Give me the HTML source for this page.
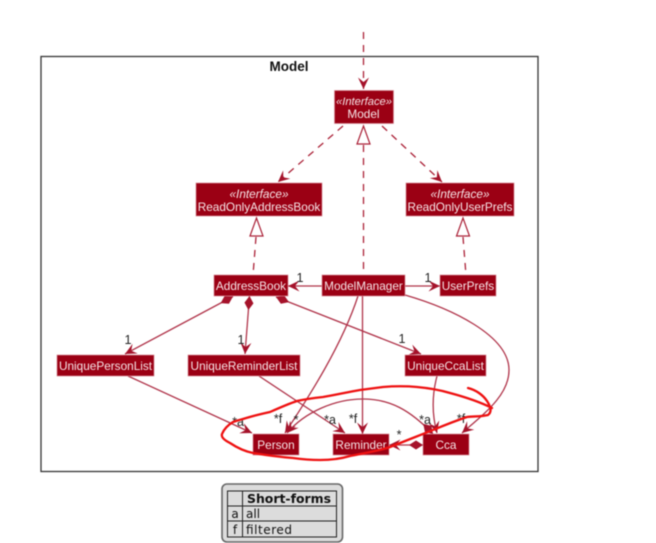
<!DOCTYPE html>
<html>
<head>
<meta charset="utf-8">
<style>
html,body{margin:0;padding:0;background:#fff;width:656px;height:543px;overflow:hidden}
svg{display:block;filter:blur(0.45px)}
text{font-family:"Liberation Sans",sans-serif}
.n{font-size:11.800px;fill:#f6e3e6;text-anchor:middle}
.i{font-size:11.800px;fill:#f6e3e6;text-anchor:middle;font-style:italic}
.l{font-size:12.500px;fill:#222;text-anchor:middle}
.t{font-family:"DejaVu Sans",sans-serif;font-size:12px;fill:#111}
.b{fill:#9b0014;stroke:#d88a96;stroke-width:.7}
.c{fill:none;stroke:#b0344a;stroke-width:1.300}
.d{fill:none;stroke:#ab2238;stroke-width:1.300;stroke-dasharray:7 6}
.h{fill:#fff;stroke:#ab2238;stroke-width:1.200}
</style>
</head>
<body>
<svg width="656" height="543" viewBox="0 0 656 543" xmlns="http://www.w3.org/2000/svg">
<defs>
<marker id="ar" markerUnits="userSpaceOnUse" markerWidth="16" markerHeight="14" viewBox="-13 -7 16 14" refX="0" refY="0" orient="auto">
<path d="M0 0L-11.500 -5.500L-7 0L-11.500 5.500Z" fill="#a5122a"/>
</marker>
<marker id="di" markerUnits="userSpaceOnUse" markerWidth="18" markerHeight="12" viewBox="-2 -6 18 12" refX="0" refY="0" orient="auto">
<path d="M0 0L7 -4.500L14 0L7 4.500Z" fill="#a5122a"/>
</marker>
</defs>
<rect x="41" y="56.500" width="497" height="415" fill="#fff" stroke="#333" stroke-width="1.300"/>
<text x="289" y="71" font-size="13.500" font-weight="bold" text-anchor="middle" fill="#111">Model</text>

<!-- dashed connectors -->
<path class="d" d="M363.500 32V89" marker-end="url(#ar)"/>
<path class="d" d="M343 126L278 182" marker-end="url(#ar)"/>
<path class="d" d="M382 126L442 182" marker-end="url(#ar)"/>
<path class="h" d="M363.500 126L357 144H370Z"/>
<path class="d" d="M363.500 145V275"/>
<path class="h" d="M256.500 218L250 236H263Z"/>
<path class="d" d="M256 237L253 275"/>
<path class="h" d="M463 218L456.500 236H469.500Z"/>
<path class="d" d="M463 237L466 275"/>

<!-- solid connectors -->
<path class="c" d="M322 286H288" marker-end="url(#ar)"/>
<path class="c" d="M405 286H440" marker-end="url(#ar)"/>
<path class="c" d="M233 296.500L125 354" marker-start="url(#di)" marker-end="url(#ar)"/>
<path class="c" d="M249.500 296L245 354" marker-start="url(#di)" marker-end="url(#ar)"/>
<path class="c" d="M276 297L421 354" marker-start="url(#di)" marker-end="url(#ar)"/>

<path class="c" d="M128 376L252 433" marker-end="url(#ar)"/>
<path class="c" d="M259 376L345 433" marker-end="url(#ar)"/>
<path class="c" d="M358 296C342 345 310 395 285 433" marker-end="url(#ar)"/>
<path class="c" d="M362.500 296V434" marker-end="url(#ar)"/>
<path class="c" d="M405 295C450 308 509 335 509 370C509 395 485 413 462 433" marker-end="url(#ar)"/>
<path class="c" d="M437 376C432 395 432 415 437 433" marker-end="url(#ar)"/>
<path class="c" d="M433 434C410 410 390 399 363 399C335 399 305 412 287 433" marker-start="url(#di)" marker-end="url(#ar)"/>
<path class="c" d="M423 445H389" marker-start="url(#di)" marker-end="url(#ar)"/>

<!-- boxes -->
<rect class="b" x="334.500" y="90.500" width="59" height="33"/>
<text class="i" x="364" y="105" style="font-size:11.200px">«Interface»</text>
<text class="n" x="363.500" y="118">Model</text>
<rect class="b" x="196" y="183" width="126" height="33"/>
<text class="i" x="259" y="198">«Interface»</text>
<text class="n" x="259" y="211">ReadOnlyAddressBook</text>
<rect class="b" x="406" y="183" width="108" height="33"/>
<text class="i" x="460" y="198">«Interface»</text>
<text class="n" x="460" y="211">ReadOnlyUserPrefs</text>
<rect class="b" x="214" y="275" width="74" height="21"/>
<text class="n" x="251" y="290">AddressBook</text>
<rect class="b" x="322" y="275" width="83" height="21"/>
<text class="n" x="363.500" y="290">ModelManager</text>
<rect class="b" x="440" y="275" width="56" height="21"/>
<text class="n" x="468" y="290">UserPrefs</text>
<rect class="b" x="57" y="355" width="97" height="21"/>
<text class="n" x="105.500" y="370">UniquePersonList</text>
<rect class="b" x="188" y="355" width="112" height="21"/>
<text class="n" x="244" y="370">UniqueReminderList</text>
<rect class="b" x="405" y="355" width="81" height="21"/>
<text class="n" x="445.500" y="370">UniqueCcaList</text>
<rect class="b" x="253" y="434" width="46" height="21"/>
<text class="n" x="276" y="449">Person</text>
<rect class="b" x="333" y="434" width="56" height="21"/>
<text class="n" x="361" y="449">Reminder</text>
<rect class="b" x="423" y="434" width="46" height="21"/>
<text class="n" x="446" y="449">Cca</text>

<!-- labels -->
<text class="l" x="300" y="282">1</text>
<text class="l" x="428" y="282">1</text>
<text class="l" x="128" y="344">1</text>
<text class="l" x="241" y="344">1</text>
<text class="l" x="402" y="343">1</text>
<text class="l" x="238" y="426">*a</text>
<text class="l" x="278" y="423">*f</text>
<text class="l" x="296" y="424">*</text>
<text class="l" x="330" y="424">*a</text>
<text class="l" x="353" y="423">*f</text>
<text class="l" x="425" y="424">*a</text>
<text class="l" x="461" y="423">*f</text>
<text class="l" x="399" y="439">*</text>

<!-- legend -->
<rect x="222" y="484" width="120.500" height="58" rx="5" fill="#dcdcdc" stroke="#666" stroke-width="1.600"/>
<rect x="227.500" y="491" width="109" height="46" fill="none" stroke="#222" stroke-width="1"/>
<path d="M227.500 506H336.500M227.500 521H336.500M242.500 491V537" fill="none" stroke="#222" stroke-width="1"/>
<text class="t" x="247" y="503" font-weight="bold" textLength="84" lengthAdjust="spacingAndGlyphs">Short-forms</text>
<text class="t" x="235" y="518" text-anchor="middle">a</text>
<text class="t" x="235" y="534" text-anchor="middle">f</text>
<text class="t" x="246" y="518">all</text>
<text class="t" x="246" y="534" textLength="46">filtered</text>

<!-- red annotation -->
<path fill="none" stroke="#ee1111" stroke-width="2.300" stroke-linecap="round" stroke-linejoin="round" d="M468 388C476 390 483 395 487 401C491 407 492 412 488 415C480 417 474 416 467 417C455 421 445 425 433 430C418 436 405 441 390 447C378 451 365 453 350 456C340 459 330 460 320 460C310 460 300 459 293 458C280 457 265 455 253 453C243 451 236 447 230 443C224 440 221 437 222 434C224 429 228 425 233 422C238 420 240 420 243 419C252 416 261 414 270 412C279 408 288 404 297 401C306 399 314 398 323 397C335 395 348 392 360 390C368 389 375 388 383 387C395 386 406 386 417 387C428 388 440 390 450 393C465 397 480 402 492 408"/>
</svg>
</body>
</html>
